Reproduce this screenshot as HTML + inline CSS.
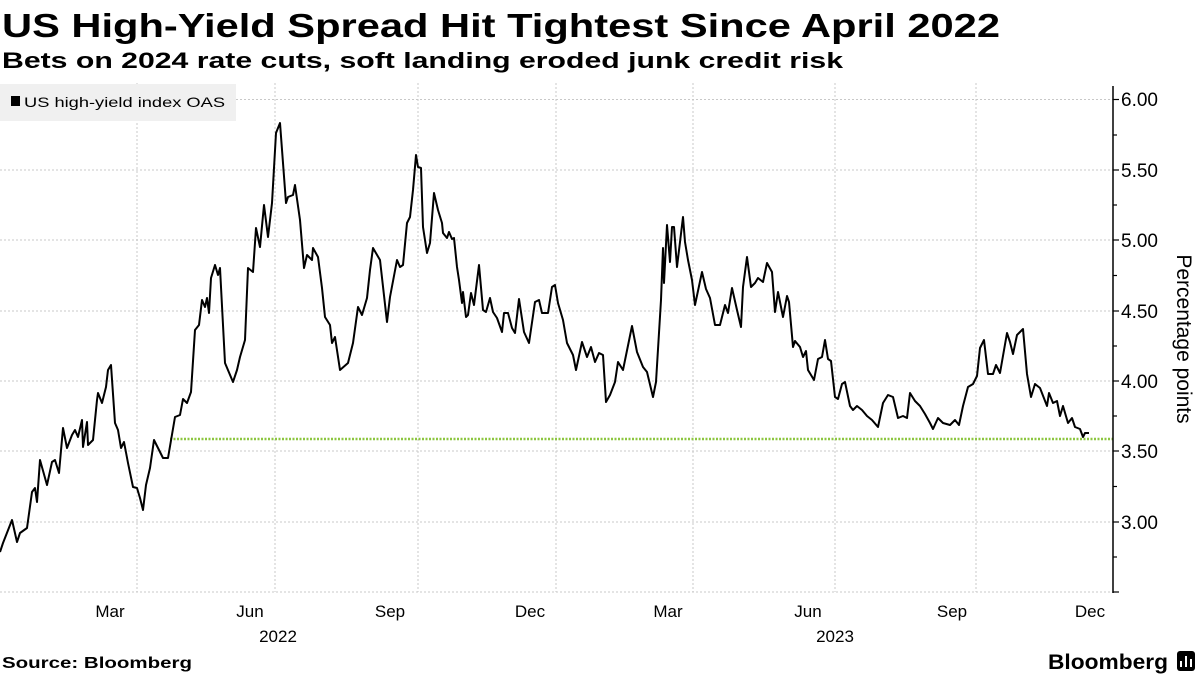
<!DOCTYPE html>
<html><head><meta charset="utf-8"><style>
html,body{margin:0;padding:0;background:#fff;}
svg{display:block;font-family:"Liberation Sans",sans-serif;}
</style></head><body>
<svg width="1200" height="675" viewBox="0 0 1200 675" xmlns="http://www.w3.org/2000/svg">
<text x="2" y="37" font-size="33" font-weight="bold" fill="#000" textLength="998" lengthAdjust="spacingAndGlyphs">US High-Yield Spread Hit Tightest Since April 2022</text>
<text x="2" y="68" font-size="22" font-weight="bold" fill="#000" textLength="841" lengthAdjust="spacingAndGlyphs">Bets on 2024 rate cuts, soft landing eroded junk credit risk</text>
<g stroke="#c8c8c8" stroke-width="1" stroke-dasharray="2,2">
<line x1="0" y1="99.5" x2="1113" y2="99.5"/><line x1="0" y1="170" x2="1113" y2="170"/>
<line x1="0" y1="240" x2="1113" y2="240"/><line x1="0" y1="311" x2="1113" y2="311"/>
<line x1="0" y1="381" x2="1113" y2="381"/><line x1="0" y1="451" x2="1113" y2="451"/>
<line x1="0" y1="522" x2="1113" y2="522"/><line x1="0" y1="592" x2="1113" y2="592"/>
<line x1="137" y1="83" x2="137" y2="592"/><line x1="275" y1="83" x2="275" y2="592"/>
<line x1="418" y1="83" x2="418" y2="592"/><line x1="556" y1="83" x2="556" y2="592"/>
<line x1="693" y1="83" x2="693" y2="592"/><line x1="835" y1="83" x2="835" y2="592"/>
<line x1="976" y1="83" x2="976" y2="592"/>
</g>
<rect x="0" y="84" width="236" height="37" fill="#f0f0f0"/>
<rect x="11" y="96" width="9" height="10" fill="#000"/>
<text x="24" y="107" font-size="14" fill="#000" textLength="201" lengthAdjust="spacingAndGlyphs">US high-yield index OAS</text>
<line x1="170" y1="439" x2="1113" y2="439" stroke="#8cc63f" stroke-width="2.5" stroke-dasharray="2,1.5"/>
<polyline fill="none" stroke="#000" stroke-width="2" stroke-linejoin="round" points="0,552 3,543 12,520 17,542 20,533 27,528 32,492 35,488 37,502 40,460 47,485 52,462 55,460 59,473 63,428 67,448 72,435 75,430 78,437 82,420 83,447 87,422 88,445 93,440 97,400 98,393 102,403 106,387 108,370 111,365 115,423 118,430 121,448 124,442 128,463 133,487 137,488 140,498 143,510 146,485 150,468 154,440 158,448 163,458 168,458 175,417 180,415 183,399 187,403 191,392 195,330 199,325 202,300 205,307 207,298 209,313 211,278 215,265 218,275 220,268 225,363 233,382 237,370 240,357 245,340 248,268 253,272 256,228 260,247 264,205 268,237 272,203 276,133 280,123 286,203 288,197 293,195 295,185 300,220 304,268 307,255 312,260 313,248 318,257 322,288 325,317 330,325 332,343 335,337 340,370 348,363 353,343 358,307 362,315 367,298 370,270 373,248 380,260 387,322 390,297 397,260 400,267 403,265 407,223 410,217 413,190 416,155 418,167 421,168 423,227 427,253 430,243 434,193 438,210 442,223 443,233 447,238 449,232 452,239 454,238 457,267 459,280 462,303 463,292 466,317 468,315 471,293 474,305 479,265 483,310 486,312 490,298 493,312 497,318 502,332 504,313 508,313 512,328 515,333 519,299 524,332 529,343 535,302 539,300 542,313 548,313 552,287 555,285 558,303 563,320 567,343 573,355 576,370 582,342 587,357 591,347 595,362 599,353 603,355 606,402 610,395 615,382 618,362 623,370 632,326 637,352 643,367 647,372 653,397 656,382 661,300 663,248 664,283 667,225 670,262 672,227 674,227 677,267 683,217 685,242 688,260 692,280 695,305 702,272 706,289 710,298 715,325 720,325 725,305 728,313 732,288 737,310 741,327 743,287 747,257 751,287 755,283 758,278 763,282 767,263 772,272 775,312 778,292 783,317 787,296 789,302 793,347 795,341 800,347 803,357 806,351 808,370 814,380 818,359 822,357 825,340 828,359 831,361 835,397 838,399 842,384 845,382 850,406 853,410 857,406 862,410 867,416 872,420 878,427 883,403 888,395 893,397 898,418 903,416 907,418 910,393 915,401 920,406 925,414 930,423 933,429 938,418 943,423 950,425 955,420 959,425 963,406 968,387 973,384 977,376 980,348 984,340 988,374 993,374 996,365 1000,373 1007,333 1010,342 1013,354 1017,335 1023,329 1027,374 1031,397 1035,384 1040,388 1047,406 1049,393 1053,403 1057,401 1060,416 1063,406 1068,423 1072,418 1075,427 1080,429 1083,437 1085,433 1089,433"/>
<line x1="1113" y1="86" x2="1113" y2="593" stroke="#000" stroke-width="1.5"/>
<g stroke="#000" stroke-width="1.2">
<line x1="1113" y1="99.5" x2="1119" y2="99.5"/><line x1="1113" y1="135" x2="1117" y2="135"/>
<line x1="1113" y1="170" x2="1119" y2="170"/><line x1="1113" y1="205" x2="1117" y2="205"/>
<line x1="1113" y1="240" x2="1119" y2="240"/><line x1="1113" y1="275.5" x2="1117" y2="275.5"/>
<line x1="1113" y1="311" x2="1119" y2="311"/><line x1="1113" y1="346" x2="1117" y2="346"/>
<line x1="1113" y1="381" x2="1119" y2="381"/><line x1="1113" y1="416" x2="1117" y2="416"/>
<line x1="1113" y1="451" x2="1119" y2="451"/><line x1="1113" y1="486.5" x2="1117" y2="486.5"/>
<line x1="1113" y1="522" x2="1119" y2="522"/><line x1="1113" y1="557" x2="1117" y2="557"/>
<line x1="1113" y1="592" x2="1119" y2="592"/>
</g>
<g font-size="19" fill="#000">
<text x="1121" y="106">6.00</text><text x="1121" y="177">5.50</text>
<text x="1121" y="247">5.00</text><text x="1121" y="318">4.50</text>
<text x="1121" y="388">4.00</text><text x="1121" y="458">3.50</text>
<text x="1121" y="529">3.00</text>
</g>
<text transform="translate(1177,339) rotate(90)" font-size="21" fill="#000" text-anchor="middle">Percentage points</text>
<g font-size="17" fill="#000" text-anchor="middle">
<text x="110" y="617">Mar</text><text x="250" y="617">Jun</text><text x="390" y="617">Sep</text>
<text x="530" y="617">Dec</text><text x="668" y="617">Mar</text><text x="808" y="617">Jun</text>
<text x="952" y="617">Sep</text><text x="1090" y="617">Dec</text>
<text x="278" y="642">2022</text><text x="835" y="642">2023</text>
</g>
<text x="2" y="668" font-size="16" font-weight="bold" fill="#000" textLength="190" lengthAdjust="spacingAndGlyphs">Source: Bloomberg</text>
<text x="1048" y="669" font-size="21" font-weight="bold" fill="#000" textLength="120" lengthAdjust="spacingAndGlyphs">Bloomberg</text>
<rect x="1177" y="651" width="18" height="20" rx="3" fill="#000"/>
<g stroke="#fff" stroke-width="2"><line x1="1181" y1="667" x2="1181" y2="661"/><line x1="1186" y1="667" x2="1186" y2="656"/><line x1="1191" y1="667" x2="1191" y2="659"/></g>
</svg>
</body></html>
